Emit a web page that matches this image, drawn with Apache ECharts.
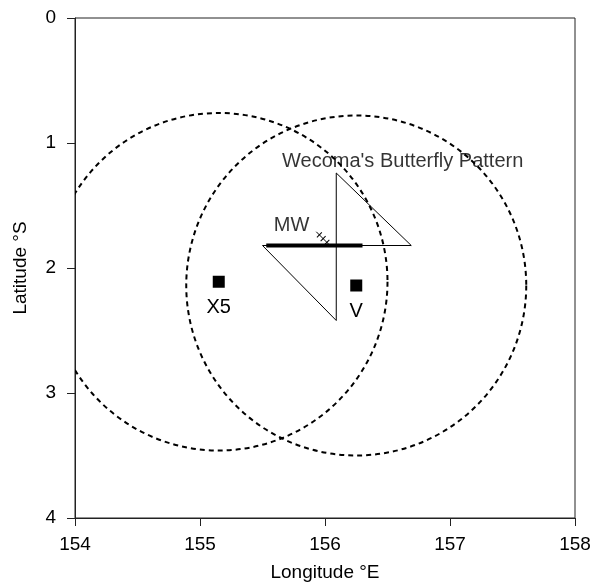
<!DOCTYPE html>
<html><head><meta charset="utf-8">
<script src="https://cdn.jsdelivr.net/npm/echarts@6/dist/echarts.min.js"></script>
<style>html,body{margin:0;padding:0;background:#fff}#c{width:593px;height:582px}</style>
</head><body><div id="c"></div>
<script>
// Data
const xTicks = [154, 155, 156, 157, 158];
const yTicks = [0, 1, 2, 3, 4];
const stationNames = ['X5', 'V'];
const stationLon = [155.15, 156.25];
const stationLat = [2.11, 2.14];
const circleRadius = [1.35, 1.36];
const butterflyLon = [156.09, 156.69, 155.50, 156.09, 156.09];
const butterflyLat = [1.24, 1.82, 1.82, 2.42, 1.24];
const mwLon = [155.53, 156.30];
const mwLat = [1.82, 1.82];
const hatchLon = [155.93, 156.03];
const hatchLat = [1.71, 1.81];
const hatchTickLon = [155.955, 155.985, 156.015];
const hatchTickLat = [1.735, 1.765, 1.795];
const labelTexts = ["Wecoma's Butterfly Pattern", 'MW'];
const labelLon = [155.656, 155.59];
const labelLat = [1.144, 1.656];

const font = '"Liberation Sans", Arial, sans-serif';
const fs = 19;
const chart = echarts.init(document.getElementById('c'));
const zip = (a, b) => a.map((v, i) => [v, b[i]]);

chart.setOption({
  animation: false,
  grid: { left: 75, top: 18, width: 500, height: 500, show: true, borderColor: '#222', borderWidth: 1, outerBoundsMode: 'none', containLabel: false },
  xAxis: {
    type: 'value', min: xTicks[0], max: xTicks[xTicks.length - 1], interval: 1,
    name: 'Longitude °E', nameLocation: 'middle', nameGap: 45,
    nameTextStyle: { fontFamily: font, fontSize: fs, color: '#000' },
    axisLine: { onZero: false, lineStyle: { color: '#222', width: 1 } },
    axisTick: { show: true, length: 8, lineStyle: { color: '#222' } },
    axisLabel: { fontFamily: font, fontSize: fs, color: '#000', margin: 17 },
    splitLine: { show: false }
  },
  yAxis: {
    type: 'value', min: yTicks[0], max: yTicks[yTicks.length - 1], interval: 1, inverse: true,
    name: 'Latitude °S', nameLocation: 'middle', nameGap: 45, nameRotate: 90,
    nameTextStyle: { fontFamily: font, fontSize: fs, color: '#000' },
    axisLine: { onZero: false, lineStyle: { color: '#222', width: 1 } },
    axisTick: { show: true, length: 8, lineStyle: { color: '#222' } },
    axisLabel: { fontFamily: font, fontSize: fs, color: '#000', margin: 19 },
    splitLine: { show: false }
  },
  series: [
    {
      type: 'custom', clip: true,
      data: stationLon.map((v, i) => [v, stationLat[i], circleRadius[i]]),
      renderItem: function (params, api) {
        const c = api.coord([api.value(0), api.value(1)]);
        const p = api.coord([api.value(0) + api.value(2), api.value(1)]);
        const r = Math.abs(p[0] - c[0]);
        return {
          type: 'circle',
          shape: { cx: c[0], cy: c[1], r: r },
          style: { fill: null, stroke: '#000', lineWidth: 2, lineDash: [5, 4] }
        };
      },
      silent: true
    },
    {
      type: 'line', data: zip(butterflyLon, butterflyLat), symbol: 'none',
      lineStyle: { color: '#000', width: 1 }, silent: true
    },
    {
      type: 'line', data: zip(mwLon, mwLat), symbol: 'none',
      lineStyle: { color: '#000', width: 4 }, silent: true
    },
    {
      type: 'line', data: zip(hatchLon, hatchLat), symbol: 'none',
      lineStyle: { color: '#000', width: 1 }, silent: true
    },
    {
      type: 'scatter', data: zip(hatchTickLon, hatchTickLat), symbol: 'rect',
      symbolSize: [1, 7], symbolRotate: -45, itemStyle: { color: '#000', opacity: 1 }, silent: true
    },
    {
      type: 'scatter', symbol: 'rect', symbolSize: 12, itemStyle: { color: '#000', opacity: 1 },
      data: stationLon.map((v, i) => ({ value: [v, stationLat[i]], name: stationNames[i] })),
      label: { show: true, position: 'bottom', distance: 10, formatter: '{b}', fontFamily: font, fontSize: 20, color: '#000' },
      silent: true
    },
    {
      type: 'scatter', symbolSize: 0,
      data: labelTexts.map((t, i) => ({ value: [labelLon[i], labelLat[i]], name: t })),
      label: { show: true, position: 'right', distance: 0, formatter: '{b}', fontFamily: font, fontSize: 20, color: '#000' },
      silent: true
    }
  ]
});
</script></body></html>
